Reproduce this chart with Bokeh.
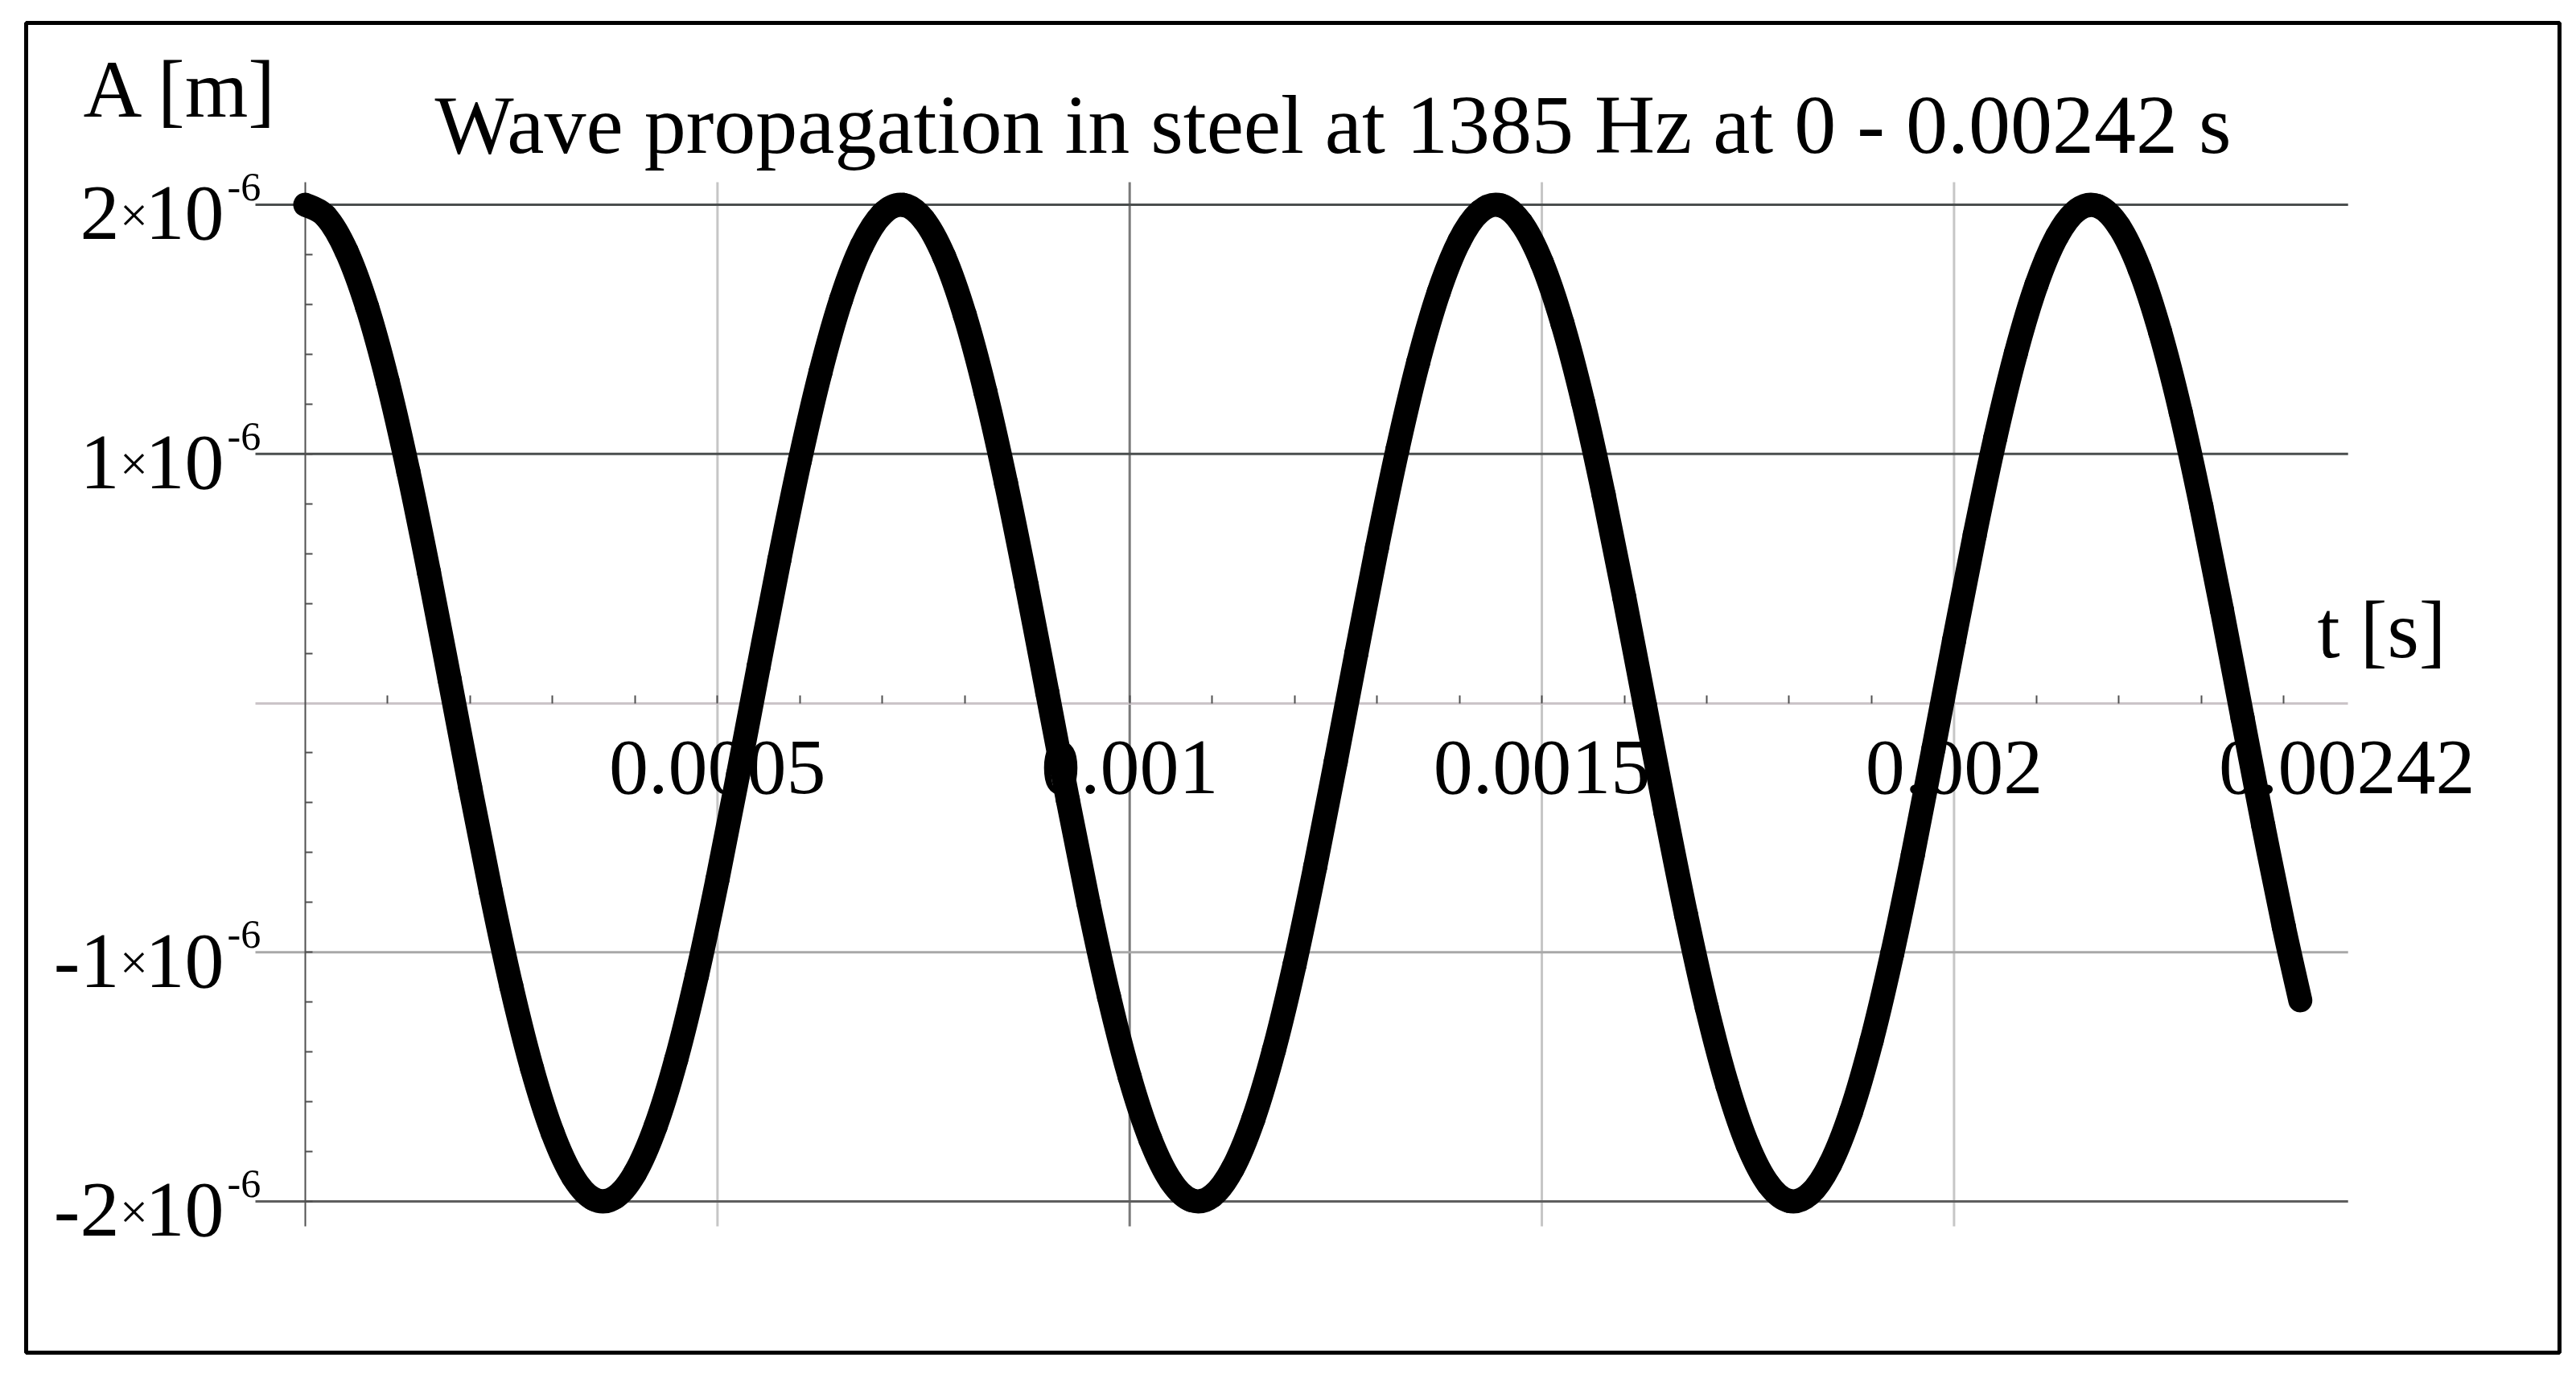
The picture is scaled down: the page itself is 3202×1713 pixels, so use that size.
from bokeh.plotting import figure
from bokeh.models import Range1d, FixedTicker
from bokeh.core.properties import value
from bokeh.embed import file_html
from bokeh.resources import INLINE

# ---------------- data ----------------
TITLE = "Wave propagation in steel at 1385 Hz at 0 - 0.00242 s"
Y_LABEL = "A [m]"
X_LABEL = "t [s]"

# time in milliseconds and displacement in micrometres
TIME_MS = [
    0.000, 0.025, 0.050, 0.075, 0.100, 0.125, 0.150, 0.175, 0.200, 0.225,
    0.250, 0.275, 0.300, 0.325, 0.350, 0.375, 0.400, 0.425, 0.450, 0.475,
    0.500, 0.525, 0.550, 0.575, 0.600, 0.625, 0.650, 0.675, 0.700, 0.725,
    0.750, 0.775, 0.800, 0.825, 0.850, 0.875, 0.900, 0.925, 0.950, 0.975,
    1.000, 1.025, 1.050, 1.075, 1.100, 1.125, 1.150, 1.175, 1.200, 1.225,
    1.250, 1.275, 1.300, 1.325, 1.350, 1.375, 1.400, 1.425, 1.450, 1.475,
    1.500, 1.525, 1.550, 1.575, 1.600, 1.625, 1.650, 1.675, 1.700, 1.725,
    1.750, 1.775, 1.800, 1.825, 1.850, 1.875, 1.900, 1.925, 1.950, 1.975,
    2.000, 2.025, 2.050, 2.075, 2.100, 2.125, 2.150, 2.175, 2.200, 2.225,
    2.250, 2.275, 2.300, 2.325, 2.350, 2.375, 2.400, 2.420,
]
AMPLITUDE_UM = [
    2.0000, 1.9528, 1.8136, 1.5890, 1.2894, 0.9290, 0.5246, 0.0958, -0.3378, -0.7552,
    -1.1372, -1.4656, -1.7246, -1.9026, -1.9908, -1.9852, -1.8860, -1.6978, -1.4296, -1.0940,
    -0.7070, -0.2866, 0.1476, 0.5746, 0.9746, 1.3284, 1.6200, 1.8350, 1.9634, 1.9994,
    1.9410, 1.7912, 1.5570, 1.2492, 0.8826, 0.4744, 0.0440, -0.3886, -0.8030, -1.1794,
    -1.5002, -1.7502, -1.9180, -1.9952, -1.9782, -1.8682, -1.6698, -1.3930, -1.0504, -0.6582,
    -0.2350, 0.1992, 0.6240, 1.0194, 1.3672, 1.6498, 1.8548, 1.9726, 1.9974, 1.9278,
    1.7676, 1.5238, 1.2084, 0.8358, 0.4240, -0.0078, -0.4394, -0.8502, -1.2210, -1.5338,
    -1.7750, -1.9320, -1.9980, -1.9700, -1.8490, -1.6410, -1.3554, -1.0058, -0.6090, -0.1836,
    0.2506, 0.6730, 1.0636, 1.4042, 1.6786, 1.8738, 1.9804, 1.9940, 1.9134, 1.7426,
    1.4892, 1.1668, 0.7884, 0.3732, -0.0596, -0.4898, -0.8970, -1.1928,
]

X_TICKS = [0.0005, 0.001, 0.0015, 0.002, 0.00242]
X_TICK_LABELS = ["0.0005", "0.001", "0.0015", "0.002", "0.00242"]
X_GRID = [0.0005, 0.001, 0.0015, 0.002]
X_MINOR_TICKS = [k * 0.0001 for k in range(1, 25)]

Y_TICKS = [2e-6, 1e-6, -1e-6, -2e-6]
Y_TICK_MANTISSA = ["2", "1", "-1", "-2"]
Y_TICK_BASE = "10"
Y_TICK_EXP = "-6"
Y_MINOR_TICKS = [k * 0.2e-6 for k in range(-10, 11) if k != 0]

# plot range of the inner plot (where grid lines and axes run)
PLOT_T = (-0.0000605, 0.002478)
PLOT_A = (-2.100e-6, 2.090e-6)

# ---------------- layout / style ----------------
FONT = value("Liberation Serif")
CANVAS_W, CANVAS_H = 3200, 1711
PX_PER_S = 1.0247e6          # horizontal px per second
PX_PER_M = 309.75e6          # vertical px per metre
ORIGIN = (379.0, 873.5)      # px of (t=0, A=0)
BOX = (32, 3181, 28, 1681)   # px of the outer black box: left, right, top, bottom
MID = 0.3375                 # text anchor (middle) above the baseline, in em


def t_at(px):
    return (px - ORIGIN[0]) / PX_PER_S


def a_at(py):
    return (ORIGIN[1] - py) / PX_PER_M


p = figure(
    width=CANVAS_W, height=CANVAS_H,
    x_range=Range1d(t_at(BOX[0]), t_at(BOX[1])),
    y_range=Range1d(a_at(BOX[3]), a_at(BOX[2])),
    output_backend="svg", toolbar_location=None,
    min_border_left=BOX[0],
    min_border_right=CANVAS_W - BOX[1],
    min_border_top=BOX[2],
    min_border_bottom=CANVAS_H - BOX[3],
    background_fill_color="white", border_fill_color="white",
    outline_line_color="black", outline_line_width=5,
)
p.xgrid.visible = False
p.ygrid.visible = False

# grid lines
p.segment(x0=X_GRID, x1=X_GRID, y0=[PLOT_A[0]] * len(X_GRID), y1=[PLOT_A[1]] * len(X_GRID),
          line_color=["#c6c6c6", "#7a7a7a", "#c6c6c6", "#c6c6c6"], line_width=3)
p.segment(x0=[PLOT_T[0]] * len(Y_TICKS), x1=[PLOT_T[1]] * len(Y_TICKS), y0=Y_TICKS, y1=Y_TICKS,
          line_color=["#4a4e4e", "#4a4e4e", "#a8a8a8", "#5e5e5e"], line_width=3)

# axes crossing at the origin
xa = p.xaxis[0]
xa.fixed_location = 0
xa.bounds = PLOT_T
xa.ticker = FixedTicker(ticks=[], minor_ticks=X_MINOR_TICKS)
xa.axis_line_color = "#cbc4c8"
xa.axis_line_width = 3
xa.major_tick_out = 0
xa.major_tick_in = 0
xa.minor_tick_in = 10
xa.minor_tick_out = 0
xa.minor_tick_line_color = "#505050"
xa.minor_tick_line_width = 2
xa.major_label_standoff = 0

ya = p.yaxis[0]
ya.fixed_location = 0
ya.bounds = PLOT_A
ya.ticker = FixedTicker(ticks=[], minor_ticks=Y_MINOR_TICKS)
ya.axis_line_color = "#505050"
ya.axis_line_width = 2
ya.major_tick_out = 0
ya.major_tick_in = 0
ya.minor_tick_in = 9
ya.minor_tick_out = 0
ya.minor_tick_line_color = "#505050"
ya.minor_tick_line_width = 2
ya.major_label_standoff = 0


def put_text(xs, ys_baseline_px, texts, size, align):
    """ys_baseline_px: vertical position of the baseline in px (screen)."""
    ys = [a_at(yb - MID * size) for yb in ys_baseline_px]
    p.text(x=xs, y=ys, text=texts, text_font=FONT, text_font_size=f"{size}px",
           text_align=align, text_baseline="alphabetic", text_color="black")


# title and axis names
put_text([t_at(540)], [189], [TITLE], 104, "left")
put_text([t_at(103)], [145], [Y_LABEL], 101, "left")
put_text([t_at(2880)], [817], [X_LABEL], 101, "left")

# x tick labels (the last one sits at the right end of the axis)
x_shift_px = [0, 0, 0, 0, 58]
put_text([t + s / PX_PER_S for t, s in zip(X_TICKS, x_shift_px)],
         [ORIGIN[1] + 113.5] * len(X_TICKS), X_TICK_LABELS, 98, "center")

# y tick labels: mantissa, times sign, 10, superscript exponent
n = len(Y_TICKS)
grid_px = [ORIGIN[1] - v * PX_PER_M for v in Y_TICKS]
put_text([t_at(148)] * n, [g + 44 for g in grid_px], Y_TICK_MANTISSA, 98, "right")
put_text([t_at(166)] * n, [g + 33 for g in grid_px], ["\u00d7"] * n, 62, "center")
put_text([t_at(278)] * n, [g + 44 for g in grid_px], [Y_TICK_BASE] * n, 98, "right")
put_text([t_at(282)] * n, [g - 5 for g in grid_px], [Y_TICK_EXP] * n, 50, "left")

# the wave: polyline through the read points, drawn smoothly as cubic pieces
t_s = [v * 1e-3 for v in TIME_MS]
a_m = [v * 1e-6 for v in AMPLITUDE_UM]
base = p.line(t_s, a_m, line_color="black", line_width=22, line_cap="round", line_join="round")
base.level = "overlay"

m = len(t_s)
x0, y0, x1, y1, cx0, cy0, cx1, cy1 = ([] for _ in range(8))
for i in range(m - 1):
    i0, i3 = max(i - 1, 0), min(i + 2, m - 1)
    x0.append(t_s[i]); y0.append(a_m[i])
    x1.append(t_s[i + 1]); y1.append(a_m[i + 1])
    cx0.append(t_s[i] + (t_s[i + 1] - t_s[i0]) / 6)
    cy0.append(a_m[i] + (a_m[i + 1] - a_m[i0]) / 6)
    cx1.append(t_s[i + 1] - (t_s[i3] - t_s[i]) / 6)
    cy1.append(a_m[i + 1] - (a_m[i3] - a_m[i]) / 6)
curve = p.bezier(x0=x0, y0=y0, x1=x1, y1=y1, cx0=cx0, cy0=cy0, cx1=cx1, cy1=cy1,
                 line_color="black", line_width=30, line_cap="round")
curve.level = "overlay"

open("out.html", "w").write(file_html(p, INLINE))
